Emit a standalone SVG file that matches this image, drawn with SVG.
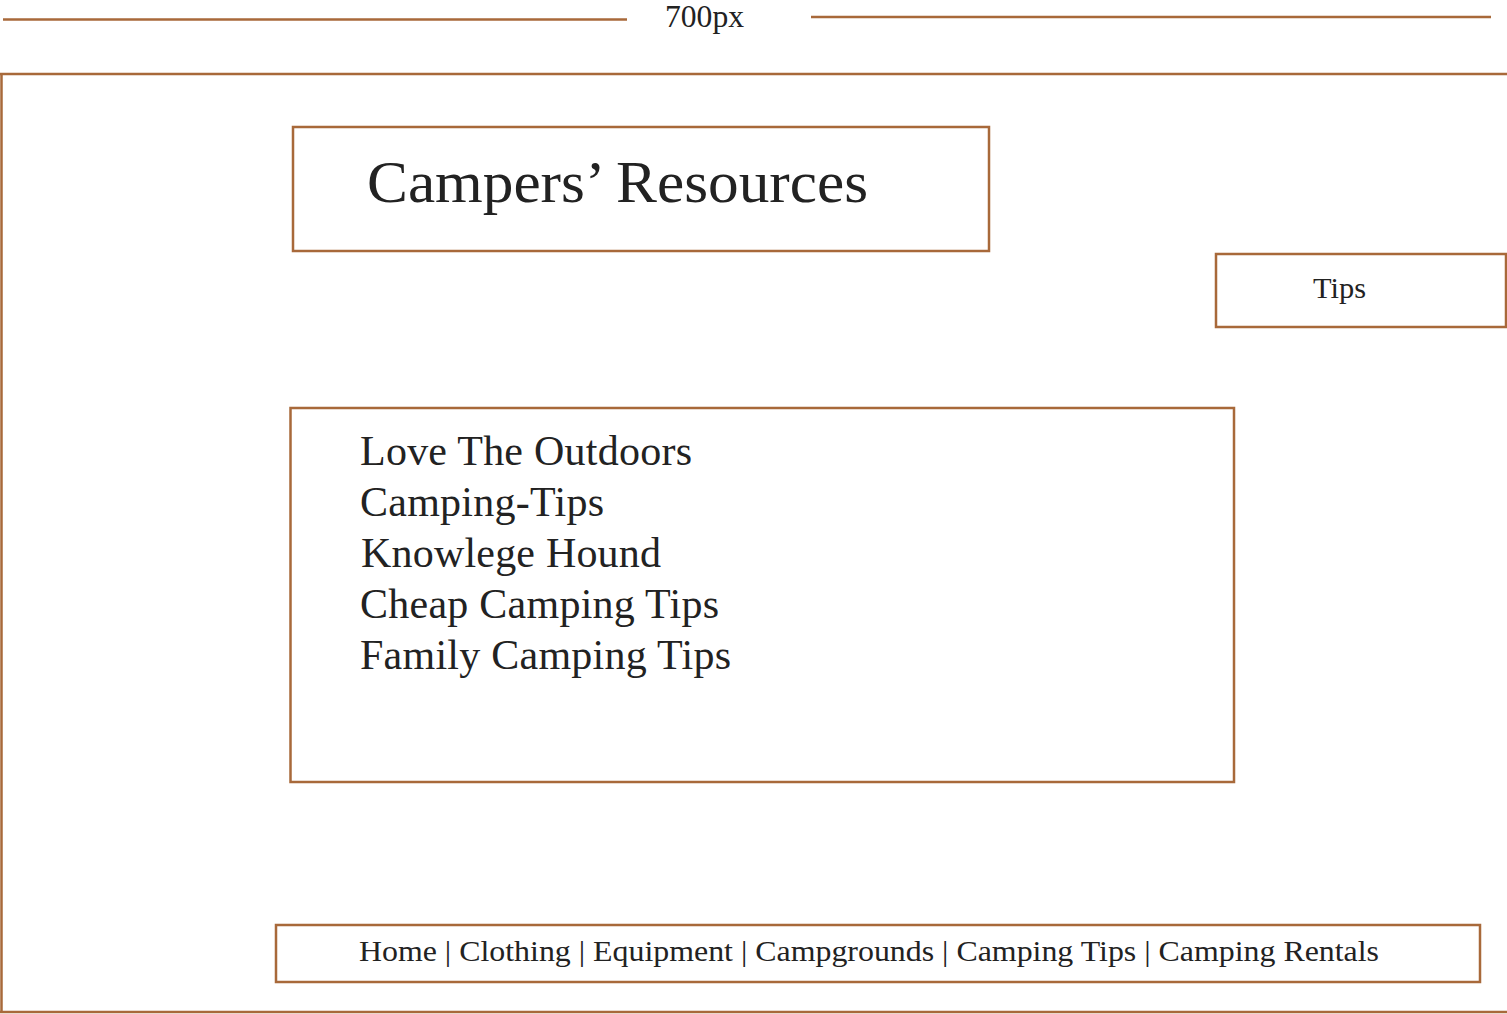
<svg xmlns="http://www.w3.org/2000/svg" width="1507" height="1014" viewBox="0 0 1507 1014">
<style>
.ln{stroke:#A8693A;stroke-width:2.5;fill:none}
.bx{stroke:#A8693A;stroke-width:2.5;fill:#fff}
.t{font-family:"Liberation Serif","Times New Roman",serif;fill:#222}
</style>
<rect width="1507" height="1014" fill="#fff"/>
<g id="ruler">
<line class="ln" x1="3" y1="19.5" x2="627" y2="19.5"/>
<line class="ln" x1="811" y1="17" x2="1491" y2="17"/>
<text class="t" x="665" y="27" font-size="31" textLength="79" lengthAdjust="spacingAndGlyphs">700px</text>
</g>
<g id="frame">
<path class="ln" d="M0 74 H1507 M1.5 74 V1012 M0 1012 H1507"/>
</g>
<g id="title">
<rect class="bx" x="293" y="127" width="696" height="124"/>
<text class="t" x="367" y="202" font-size="59" textLength="501" lengthAdjust="spacingAndGlyphs">Campers’ Resources</text>
</g>
<g id="tips">
<rect class="bx" x="1216" y="254" width="290" height="73"/>
<text class="t" x="1313" y="298" font-size="30" textLength="53" lengthAdjust="spacingAndGlyphs">Tips</text>
</g>
<g id="content">
<rect class="bx" x="290.5" y="408" width="943.5" height="374"/>
<text class="t" font-size="42" lengthAdjust="spacingAndGlyphs">
<tspan x="360" y="465" textLength="332">Love The Outdoors</tspan>
<tspan x="360" y="515.5" textLength="244">Camping-Tips</tspan>
<tspan x="361" y="566.5" textLength="300">Knowlege Hound</tspan>
<tspan x="360" y="617.5" textLength="359">Cheap Camping Tips</tspan>
<tspan x="360" y="668.5" textLength="371">Family Camping Tips</tspan>
</text>
</g>
<g id="nav">
<rect class="bx" x="276" y="925" width="1204" height="57"/>
<text class="t" x="359" y="961" font-size="30" textLength="1020" lengthAdjust="spacingAndGlyphs">Home | Clothing | Equipment | Campgrounds | Camping Tips | Camping Rentals</text>
</g>
<g id="connectors"/>
</svg>
